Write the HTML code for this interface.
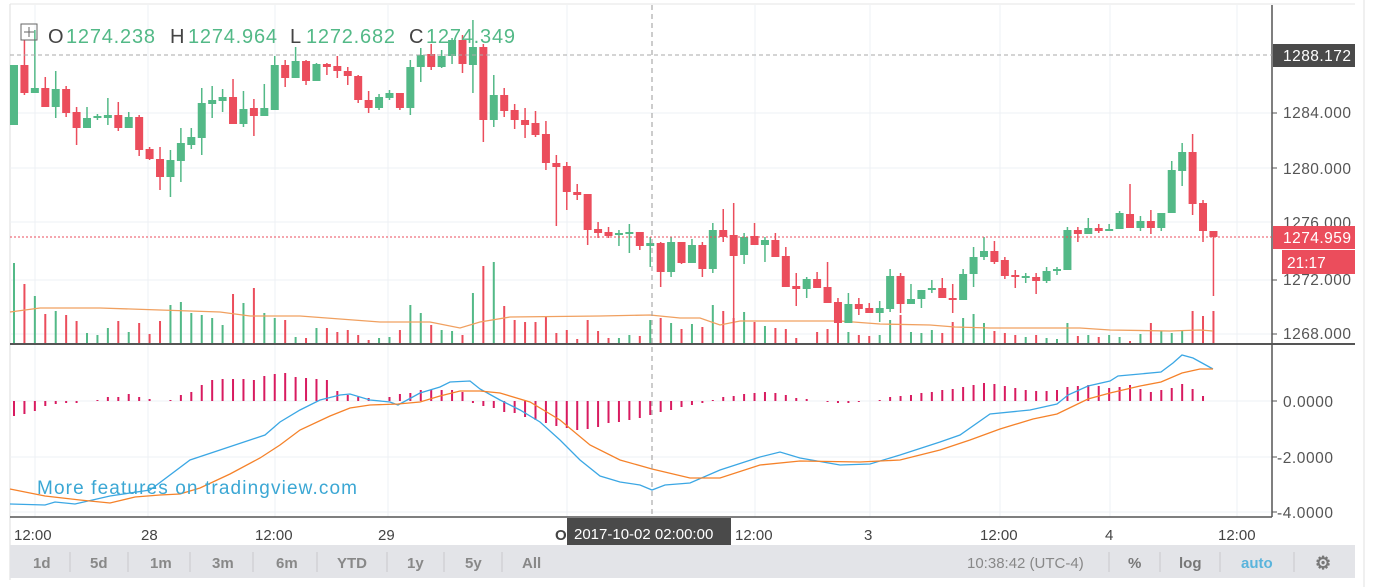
<!DOCTYPE html>
<html><head><meta charset="utf-8">
<style>
html,body{margin:0;padding:0;background:#fff;width:1389px;height:587px;overflow:hidden}
svg{display:block;font-family:"Liberation Sans",sans-serif}
</style></head><body>
<svg id="s" width="1389" height="587" xmlns="http://www.w3.org/2000/svg">
<rect x="0" y="0" width="1389" height="587" fill="#fff"/>
<line x1="10" y1="4" x2="10" y2="580" stroke="#dcdcdc"/>
<line x1="1364" y1="0" x2="1364" y2="587" stroke="#e0e0e0"/>
<line x1="10" y1="4" x2="1355" y2="4" stroke="#e4e4e4"/>
<g id="grid" stroke="#eef1f4" stroke-width="1"></g>
<g id="vol"></g>
<g id="cand"></g>
<g id="macd"></g>
<line x1="10" y1="344" x2="1355" y2="344" stroke="#555" stroke-width="2"/>
<line x1="10" y1="517" x2="1272" y2="517" stroke="#555" stroke-width="1.5"/>
<line x1="1272" y1="5" x2="1272" y2="517" stroke="#555" stroke-width="1.5"/>
<line x1="10" y1="55" x2="1272" y2="55" stroke="#aaa" stroke-dasharray="4,3"/>
<line x1="10" y1="237" x2="1272" y2="237" stroke="#eb4d5c" stroke-dasharray="2,2"/>
<line x1="652" y1="5" x2="652" y2="545" stroke="#999" stroke-dasharray="5,4"/>
<g font-size="15.5" fill="#555">
<text x="1283" y="118" textLength="68">1284.000</text>
<text x="1283" y="174" textLength="68">1280.000</text>
<text x="1283" y="228" textLength="68">1276.000</text>
<text x="1283" y="285" textLength="68">1272.000</text>
<text x="1283" y="339" textLength="68">1268.000</text>
<text x="1283" y="407" textLength="50">0.0000</text>
<text x="1277" y="463" textLength="56">-2.0000</text>
<text x="1277" y="518" textLength="56">-4.0000</text>
</g>
<g stroke="#555"><line x1="1272" y1="113" x2="1277" y2="113"/><line x1="1272" y1="168" x2="1277" y2="168"/><line x1="1272" y1="280" x2="1277" y2="280"/><line x1="1272" y1="334" x2="1277" y2="334"/><line x1="1272" y1="401" x2="1277" y2="401"/><line x1="1272" y1="457" x2="1277" y2="457"/><line x1="1272" y1="512" x2="1277" y2="512"/></g>
<rect x="1273" y="44" width="82" height="23" fill="#4a4a4a"/>
<text x="1283" y="61" font-size="15.5" fill="#fff" textLength="68">1288.172</text>
<rect x="1273" y="226" width="82" height="23" fill="#eb4d5c"/>
<text x="1283" y="243" font-size="15.5" fill="#fff" textLength="68">1274.959</text>
<rect x="1282" y="250" width="73" height="24" fill="#eb4d5c"/>
<text x="1287" y="268" font-size="15.5" fill="#fff">21:17</text>
<g font-size="15" fill="#444">
<text x="14" y="540">12:00</text><text x="141" y="540">28</text><text x="255" y="540">12:00</text><text x="378" y="540">29</text><text x="555" y="540" font-weight="bold">Oc</text><text x="735" y="540">12:00</text><text x="864" y="540">3</text><text x="980" y="540">12:00</text><text x="1105" y="540">4</text><text x="1218" y="540">12:00</text>
</g>
<rect x="567" y="518" width="164" height="27" fill="#4a4a4a"/>
<text x="574" y="539" font-size="15" fill="#fff">2017-10-02 02:00:00</text>
<text x="37" y="494" font-size="19" fill="#3ba7d4" textLength="320">More features on tradingview.com</text>
<rect x="21" y="24" width="16" height="16" fill="none" stroke="#666"/>
<line x1="29" y1="27" x2="29" y2="37" stroke="#666"/><line x1="24" y1="32" x2="34" y2="32" stroke="#666"/>
<g font-size="20"><text x="48" y="43" fill="#444">O</text><text x="66" y="43" fill="#53b987" textLength="89">1274.238</text>
<text x="170" y="43" fill="#444">H</text><text x="188" y="43" fill="#53b987" textLength="89">1274.964</text>
<text x="290" y="43" fill="#444">L</text><text x="306" y="43" fill="#53b987" textLength="89">1272.682</text>
<text x="409" y="43" fill="#444">C</text><text x="426" y="43" fill="#53b987" textLength="89">1274.349</text></g>
<rect x="10" y="545" width="1345" height="33" fill="#e3e4e8"/>
<g font-size="15" fill="#888" font-weight="bold">
<text x="33" y="568">1d</text><text x="90" y="568">5d</text><text x="150" y="568">1m</text><text x="212" y="568">3m</text><text x="276" y="568">6m</text><text x="337" y="568">YTD</text><text x="407" y="568">1y</text><text x="465" y="568">5y</text><text x="522" y="568">All</text>
<text x="967" y="568" font-weight="normal">10:38:42 (UTC-4)</text>
<text x="1128" y="568" fill="#777">%</text><text x="1179" y="568" fill="#777">log</text><text x="1241" y="568" fill="#5ab4dc">auto</text>
<text x="1315" y="569" fill="#777" font-size="18">⚙</text>
</g>
<g stroke="#c8c8cc"><line x1="70" y1="552" x2="70" y2="572"/><line x1="128" y1="552" x2="128" y2="572"/><line x1="190" y1="552" x2="190" y2="572"/><line x1="253" y1="552" x2="253" y2="572"/><line x1="317" y1="552" x2="317" y2="572"/><line x1="387" y1="552" x2="387" y2="572"/><line x1="444" y1="552" x2="444" y2="572"/><line x1="502" y1="552" x2="502" y2="572"/>
<line x1="1109" y1="552" x2="1109" y2="572"/><line x1="1160" y1="552" x2="1160" y2="572"/><line x1="1220" y1="552" x2="1220" y2="572"/><line x1="1294" y1="552" x2="1294" y2="572"/></g>
</svg>
<script>
var NS="http://www.w3.org/2000/svg";
function el(p,t,a){var e=document.createElementNS(NS,t);for(var k in a)e.setAttribute(k,a[k]);p.appendChild(e);return e;}
var G="#53b987",R="#eb4d5c";
var grid=document.getElementById("grid");
[113,168,222,280,334,401,457,512].forEach(function(y){el(grid,"line",{x1:10,y1:y,x2:1272,y2:y});});
[35,148,275,388,567,755,870,1000,1110,1237].forEach(function(x){el(grid,"line",{x1:x,y1:5,x2:x,y2:517});});
var d=[
"g 65 125 65 125 263","r 65 93 40 95 284","g 88 93 30 93 296","r 88 107 77 107 314","g 89 107 71 118 311","r 89 113 86 117 315","r 112 128 107 145 321","g 118 128 107 128 333","g 116 118 114 120 335","g 115 118 98 125 328",
"r 115 128 102 131 321","g 117 128 112 128 332","r 117 150 115 156 323","r 149 159 147 160 334","r 159 177 147 190 321","g 160 177 150 197 305","g 143 161 128 182 302","g 137 145 128 149 313","g 103 138 88 155 315","g 100 104 86 118 318",
"g 97 101 89 112 325","r 97 124 79 124 294","g 109 124 91 127 303","r 108 116 99 136 288","g 108 116 84 116 313","g 65 110 56 110 318","r 65 78 60 87 320","g 61 78 47 78 337","r 61 81 60 85 338","g 64 81 63 81 328",
"r 64 67 63 75 328","r 66 71 56 78 332","r 71 76 67 85 330","r 76 100 75 103 335","r 100 108 91 113 340","g 97 108 94 110 338","g 93 98 90 100 337","r 93 108 93 110 330","g 67 108 60 115 305","g 55 67 48 82 313",
"r 54 67 44 70 325","g 56 67 50 68 330","g 40 56 38 64 331","r 40 64 35 73 335","g 47 65 20 93 293","r 47 120 44 142 266","g 95 120 75 127 262","r 95 111 88 117 306","r 110 120 104 129 320","r 120 125 108 138 322",
"r 123 135 111 137 322","r 134 163 121 170 317","r 163 167 155 226 333","r 166 192 162 210 330","r 192 195 184 200 339","r 194 230 194 245 320","r 229 233 222 238 331","r 232 236 227 238 338","g 233 235 230 246 338","g 232 234 224 253 335",
"r 232 246 232 250 336","g 243 246 237 267 320","r 243 272 242 287 318","g 242 272 237 277 323","r 242 263 242 264 329","g 245 263 239 263 324","r 245 269 242 277 327","g 230 269 223 273 305","r 230 237 209 242 311","r 235 256 203 345 318",
"g 237 255 233 264 312","r 236 245 223 245 322","g 240 245 237 262 326","r 240 257 233 257 328","r 256 287 247 287 329","r 286 289 273 306 338","g 279 289 277 298 343","r 279 288 272 288 332","r 287 303 262 303 329","r 302 323 298 327 323",
"g 304 323 293 323 332","r 304 309 298 315 335","r 308 313 303 313 336","g 308 313 301 322 335","g 276 309 269 312 320","r 276 304 273 313 315","g 299 304 284 304 332","g 290 299 290 308 333","g 288 290 280 293 330","r 288 298 278 298 333",
"r 298 299 284 313 322","g 274 300 269 300 318","g 257 274 247 287 314","g 251 257 237 260 323","r 251 262 241 264 331","r 260 276 257 279 333","r 275 277 270 288 335","g 276 278 273 283 337","r 277 281 273 294 335","g 271 281 267 283 338",
"g 269 271 267 275 339","g 230 270 227 270 323","r 230 234 227 242 336","g 228 234 218 234 335","r 228 231 224 233 337","g 229 231 224 231 335","g 213 229 211 229 337","r 214 228 184 228 341","g 221 228 216 231 334","r 221 228 210 234 323",
"g 213 228 213 231 331","g 170 213 161 213 333","g 152 171 143 186 330","r 152 204 134 215 311","r 203 231 200 242 316","r 231 237 231 296 311"];
var hist=[416,414,411,406,404,403,403,401,400,397,397,394,397,399,401,400,395,392,385,380,379,379,379,380,376,374,373,377,378,379,380,391,395,397,398,401,397,394,393,390,390,390,390,392,403,406,408,412,413,417,420,423,426,428,430,429,427,423,422,420,418,415,412,410,407,405,403,400,397,396,394,393,392,393,395,398,399,401,402,403,403,402,401,400,397,396,395,393,392,390,389,387,385,383,384,386,388,390,391,391,390,387,386,385,386,388,387,385,389,392,390,388,384,389,396,401];
var cg=document.getElementById("cand"),vg=document.getElementById("vol"),mg=document.getElementById("macd");
d.forEach(function(s,i){var a=s.split(" "),c=a[0]=="g"?G:R,x=14+i*10.43;
 var t=+a[1],b=+a[2],wt=+a[3],wb=+a[4],v=+a[5];
 el(vg,"rect",{x:x-1,y:v,width:2,height:344-v,fill:c});
 el(cg,"rect",{x:x-0.75,y:wt,width:1.5,height:Math.max(1,wb-wt),fill:c});
 el(cg,"rect",{x:x-4,y:t,width:8,height:Math.max(2,b-t),fill:c});
 var h=hist[i];if(h!=401){el(mg,"rect",{x:x-1,y:Math.min(h,401),width:2,height:Math.abs(h-401),fill:"#d81b60"});}
});
function pl(p,pts,c){el(p,"polyline",{points:pts,fill:"none",stroke:c,"stroke-width":1.3});}
pl(vg,"10,312 40,308 100,308 160,310 220,312 250,316 300,316 380,322 430,322 460,328 480,322 510,317 600,316 650,315 680,318 700,318 720,325 740,321 840,321 880,324 930,325 955,327 990,328 1080,328 1110,330 1170,331 1200,330 1213,331","#f0a060");
pl(mg,"10,504 45,505 55,502 75,504 110,496 150,490 190,460 220,450 250,440 265,435 280,422 300,410 320,400 340,395 350,394 370,400 390,402 398,405 420,393 440,387 450,382 470,381 480,389 500,400 520,410 540,422 560,440 580,460 600,476 620,482 640,485 652,490 665,485 690,483 720,470 760,457 780,452 800,458 840,465 870,464 900,455 940,442 960,435 990,414 1030,410 1057,404 1068,395 1088,386 1110,381 1118,376 1140,374 1161,372 1173,363 1182,355 1193,358 1213,369","#3ba7e4");
pl(mg,"10,489 45,496 80,500 110,503 135,497 160,495 180,494 200,488 230,474 260,458 280,445 300,430 330,416 350,408 370,405 398,404 420,402 440,396 460,391 480,391 500,393 530,402 560,420 590,445 620,460 652,469 690,478 720,478 760,465 800,461 860,462 900,460 940,450 970,440 1000,429 1033,419 1057,414 1088,399 1110,393 1140,386 1161,382 1182,373 1200,369 1213,369","#f5822a");
</script>
</body></html>
